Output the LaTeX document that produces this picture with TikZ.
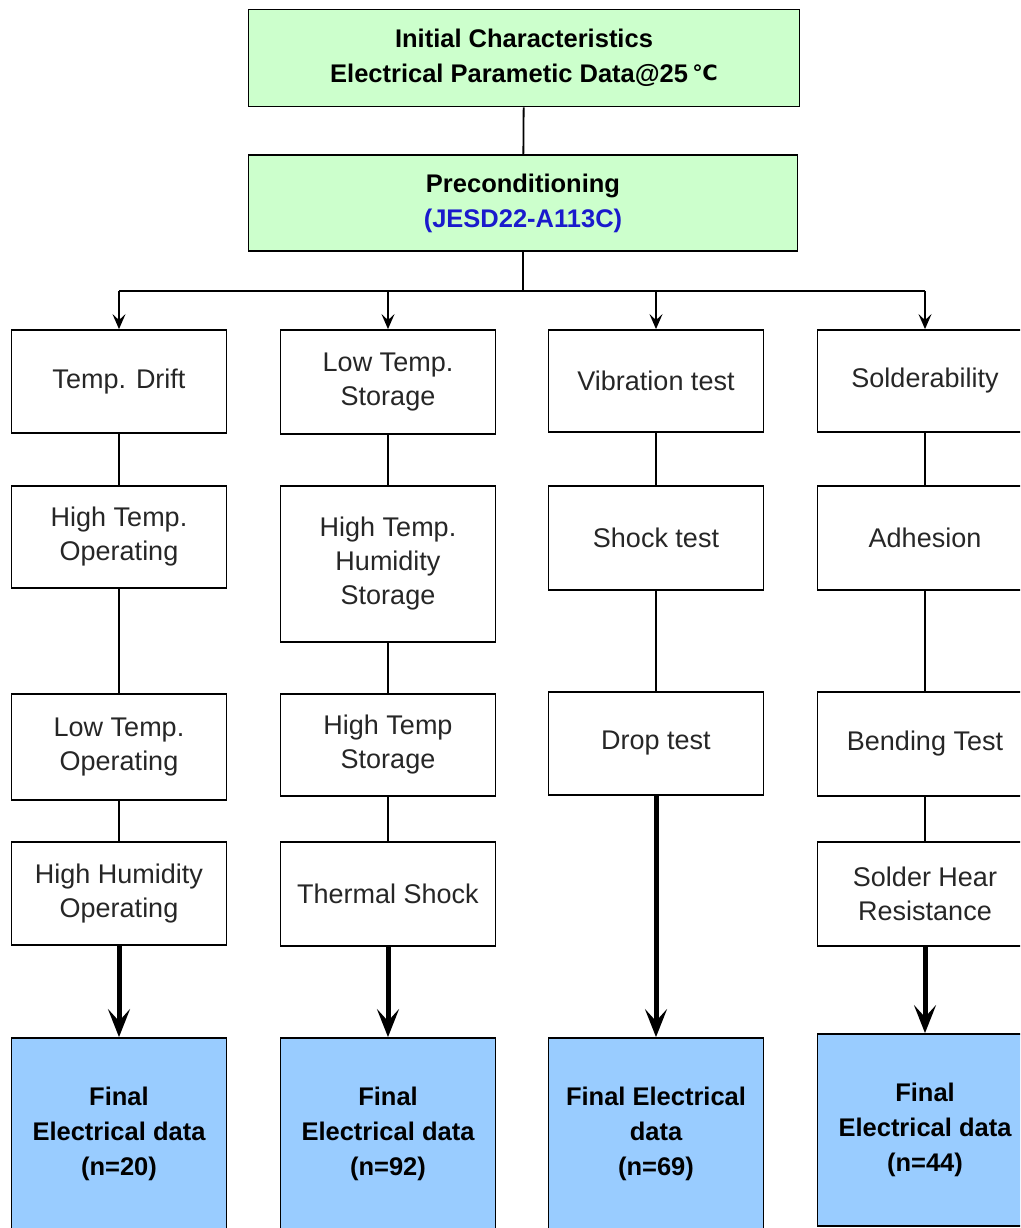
\documentclass[tikz,border=0pt]{standalone}
\usepackage{fontspec}
\setmainfont{Liberation Sans}
\newfontfamily\symfont{DejaVu Sans}
\usepackage{tikz}
\usetikzlibrary{arrows.meta,positioning}
\definecolor{headgreen}{HTML}{CCFFCC}
\definecolor{finalblue}{HTML}{99CCFF}
\definecolor{refblue}{HTML}{1A1ACC}
\tikzset{
  testbox/.style={draw, line width=1.8pt, minimum width=215pt, minimum height=103pt,
    align=center, inner sep=2pt, text=black!85, font=\fontsize{27}{34}\selectfont},
  headbox/.style={testbox, fill=headgreen, minimum width=551pt, minimum height=97pt,
    text=black, font=\bfseries\fontsize{25.5}{35}\selectfont},
  finalbox/.style={testbox, fill=finalblue, minimum height=192pt,
    text=black, font=\bfseries\fontsize{25.5}{35}\selectfont},
  linkln/.style={line width=1.8pt},
  feedln/.style={-{Stealth[length=15pt,width=13pt,inset=6pt]}, line width=1.8pt},
  thickln/.style={-{Stealth[length=28pt,width=22pt,inset=12pt]}, line width=5pt},
}
\begin{document}
\begin{tikzpicture}[x=1pt, y=-1pt]
        \useasboundingbox (0,0) rectangle (1020,1228);
        \clip (0,0) rectangle (1020,1228);
        % top of the flow
        \node[headbox] (init) at (524,58)
          {Initial Characteristics\\Electrical Parametic Data@25\,{\symfont\fontsize{21}{35}\selectfont\raisebox{2pt}{℃}}};
        \node[headbox, minimum width=549pt, minimum height=96pt] (precond) at (523,203)
          {Preconditioning\\\textcolor{refblue}{(JESD22-A113C)}};
        % column 1
        \node[testbox] (drift) at (119,381.5) {Temp. Drift};
        \node[testbox, minimum height=102pt] (htop) at (119,537) {High Temp.\\Operating};
        \node[testbox, minimum height=106pt] (ltop) at (119,747) {Low Temp.\\Operating};
        \node[testbox] (hhop) at (119,893.5) {High Humidity\\Operating};
        \node[finalbox] (fin1) at (119,1134) {Final\\Electrical data\\(n=20)};
        % column 2
        \node[testbox, minimum height=104pt] (lts) at (388,382) {Low Temp.\\Storage};
        \node[testbox, minimum height=156pt] (hths) at (388,564) {High Temp.\\Humidity\\Storage};
        \node[testbox, minimum height=102pt] (hts) at (388,745) {High Temp\\Storage};
        \node[testbox, minimum height=104pt] (tshock) at (388,894) {Thermal Shock};
        \node[finalbox] (fin2) at (388,1134) {Final\\Electrical data\\(n=92)};
        % column 3
        \node[testbox, minimum height=102pt] (vib) at (656,381) {Vibration test};
        \node[testbox, minimum height=104pt] (shock) at (656,538) {Shock test};
        \node[testbox] (drop) at (656,743.5) {Drop test};
        \node[finalbox] (fin3) at (656,1134) {Final Electrical\\data\\(n=69)};
        % column 4
        \node[testbox, minimum height=102pt] (solder) at (925,381) {Solderability};
        \node[testbox, minimum height=104pt] (adh) at (925,538) {Adhesion};
        \node[testbox, minimum height=104pt] (bend) at (925,744) {Bending Test};
        \node[testbox, minimum height=104pt] (shr) at (925,894) {Solder Hear\\Resistance};
        \node[finalbox] (fin4) at (925,1130) {Final\\Electrical data\\(n=44)};
        % connectors
        \draw[linkln] (init) -- (precond);
        \draw[linkln] (precond.south) -- ++(0,39) coordinate (busmid);
        \draw[linkln] (drift.north |- busmid) -- (solder.north |- busmid);
        \foreach \n in {drift,lts,vib,solder}
          \draw[feedln] (\n.north |- busmid) -- (\n);
        \foreach \a/\b in {drift/htop, htop/ltop, ltop/hhop, lts/hths, hths/hts,
            hts/tshock, vib/shock, shock/drop, solder/adh, adh/bend, bend/shr}
          \draw[linkln] (\a) -- (\b);
        \foreach \a/\b in {hhop/fin1, tshock/fin2, drop/fin3, shr/fin4}
          \draw[thickln] (\a) -- (\b);
      \end{tikzpicture}
\end{document}
